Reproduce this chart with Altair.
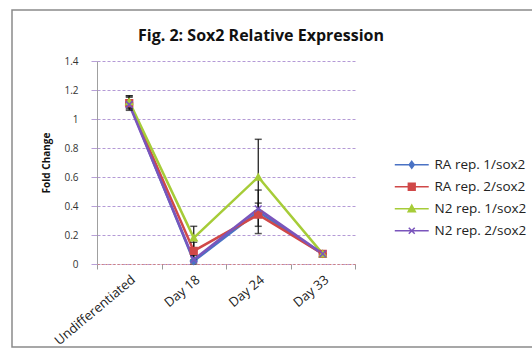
import altair as alt
import pandas as pd

# Categories (time points) and series names
categories = ["Undifferentiated", "Day 18", "Day 24", "Day 33"]
series = ["RA rep. 1/sox2", "RA rep. 2/sox2", "N2 rep. 1/sox2", "N2 rep. 2/sox2"]

# Fold change per series, in category order
ra1 = [1.11, 0.02, 0.36, 0.07]
ra2 = [1.11, 0.09, 0.34, 0.07]
n2_1 = [1.12, 0.18, 0.60, 0.07]
n2_2 = [1.10, 0.03, 0.38, 0.07]

# Error bar half-widths (0 = no bar)
ra1_err = [0.05, 0.0, 0.15, 0.0]
ra2_err = [0.04, 0.06, 0.08, 0.0]
n2_1_err = [0.04, 0.08, 0.26, 0.0]
n2_2_err = [0.0, 0.03, 0.0, 0.0]

y_ticks = [0, 0.2, 0.4, 0.6, 0.8, 1.0, 1.2, 1.4]

colors = ["#4a72c4", "#d04848", "#a6cc38", "#7a55bc"]
# Marker shapes on the plot
shapes = [
    "diamond",
    "square",
    "triangle-up",
    "M-1,-1L1,1M-1,1L1,-1",
]
# Legend keys: a short line with the marker in the middle
legend_shapes = [
    "M-4,0H4M0,-0.8L0.6,0L0,0.8L-0.6,0Z",
    "M-4,0H4M-0.8,-0.8H0.8V0.8H-0.8Z",
    "M-4,0H4M0,-0.85L0.85,0.7H-0.85Z",
    "M-4,0H4M-0.7,-0.7L0.7,0.7M-0.7,0.7L0.7,-0.7",
]

values = [ra1, ra2, n2_1, n2_2]
errors = [ra1_err, ra2_err, n2_1_err, n2_2_err]

rows = []
for i, (s, vals, errs) in enumerate(zip(series, values, errors)):
    for c, v, e in zip(categories, vals, errs):
        rows.append({"category": c, "series": s, "value": v, "err": e,
                     "lo": v - e, "hi": v + e, "order": i})
df = pd.DataFrame(rows)
err_df = df[df["err"] > 0]

FONT = "Open Sans"

x_axis = alt.Axis(
    title=None,
    labelAngle=-40,
    labelAlign="right",
    labelBaseline="top",
    labelFont=FONT,
    labelFontSize=13,
    labelColor="#222222",
    labelPadding=4,
    tickBand="extent",
    tickSize=5,
    tickColor="#9a9a9a",
    domainColor="#d08080",
    domainDash=[2, 2],
    grid=False,
)
x_scale = alt.Scale(type="band", domain=categories, paddingInner=0, paddingOuter=0)

y_axis = alt.Axis(
    title="Fold Change",
    titleFont=FONT,
    titleFontSize=10,
    titleFontWeight="bold",
    titleColor="#111111",
    titlePadding=12,
    values=y_ticks,
    format="~g",
    labelFont=FONT,
    labelFontSize=10,
    labelColor="#333333",
    labelPadding=13,
    labelOverlap=False,
    tickSize=6,
    tickColor="#b8a0d8",
    domainColor="#a0a0a0",
    gridColor="#b49ad6",
    gridDash=[3, 2],
    gridWidth=1,
)
y_scale = alt.Scale(domain=[0, 1.4], nice=False)


def X():
    return alt.X("category:N", sort=categories, scale=x_scale, axis=x_axis)


def Y(field):
    return alt.Y(field, scale=y_scale, axis=y_axis)


color_scale = alt.Scale(domain=series, range=colors)

lines = alt.Chart(df).mark_line(strokeWidth=2.5).encode(
    x=X(),
    y=Y("value:Q"),
    color=alt.Color("series:N", scale=color_scale, legend=None),
    detail="series:N",
    order="order:Q",
)

points = alt.Chart(df).mark_point(filled=True, size=45, strokeWidth=1.5, opacity=1).encode(
    x=X(),
    y=Y("value:Q"),
    color=alt.Color("series:N", scale=color_scale, legend=None),
    stroke=alt.Stroke("series:N", scale=color_scale, legend=None),
    shape=alt.Shape("series:N", scale=alt.Scale(domain=series, range=shapes), legend=None),
)

bars = alt.Chart(err_df).mark_rule(color="#111111", strokeWidth=1.2).encode(
    x=X(),
    y=Y("lo:Q"),
    y2="hi:Q",
)
caps_hi = alt.Chart(err_df).mark_tick(color="#111111", thickness=1.5, size=7).encode(
    x=X(),
    y=Y("hi:Q"),
)
caps_lo = alt.Chart(err_df).mark_tick(color="#111111", thickness=1.5, size=7).encode(
    x=X(),
    y=Y("lo:Q"),
)

# Legend-only layer: draws no marks, only supplies the legend keys
legend_layer = alt.Chart(df).transform_filter("datum.value < -1").mark_point(
    filled=True, opacity=1, strokeWidth=1.5
).encode(
    x=X(),
    y=Y("value:Q"),
    color=alt.Color(
        "series:N",
        scale=color_scale,
        legend=alt.Legend(
            title=None,
            orient="none",
            legendX=308,
            legendY=97,
            padding=0,
            labelFont=FONT,
            labelFontSize=13.5,
            labelColor="#222222",
            labelOffset=16,
            symbolSize=72,
            symbolStrokeWidth=1.5,
            symbolOpacity=1,
            rowPadding=7,
            labelLimit=200,
        ),
    ),
    stroke=alt.Stroke("series:N", scale=color_scale),
    shape=alt.Shape("series:N", scale=alt.Scale(domain=series, range=legend_shapes)),
)

# Outer chart frame
frame = alt.Chart(pd.DataFrame({"f": [0]})).mark_rect(
    filled=False, stroke="#8a8a8a", strokeWidth=1.5
).encode(
    x=alt.value(-85), x2=alt.value(445), y=alt.value(-51), y2=alt.value(286)
)

chart = alt.layer(frame, lines, bars, caps_hi, caps_lo, points, legend_layer).resolve_scale(
    color="independent", shape="independent", stroke="independent"
).properties(
    width=258,
    height=203,
    autosize=alt.AutoSizeParams(type="none"),
    padding={"left": 97, "top": 61, "right": 177, "bottom": 85},
    background="white",
    title=alt.TitleParams(
        "Fig. 2: Sox2 Relative Expression",
        font=FONT,
        fontSize=16,
        fontWeight="bold",
        color="#111111",
        anchor="middle",
        dx=35,
        offset=0,
        dy=35,
    ),
).configure_view(stroke=None)

chart.save("out.html", embed_options={"renderer": "svg", "actions": False})
